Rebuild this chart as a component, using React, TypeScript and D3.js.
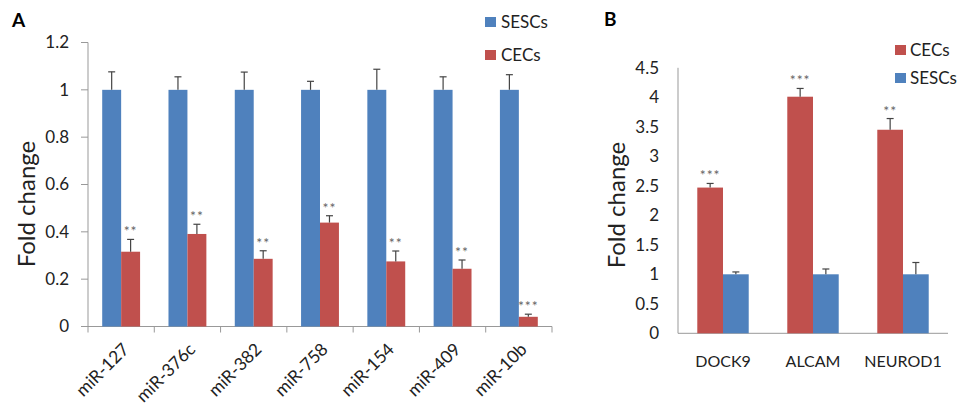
import * as d3 from 'd3';

// Panel A: miRNA expression
const miRNAs = ['miR-127', 'miR-376c', 'miR-382', 'miR-758', 'miR-154', 'miR-409', 'miR-10b'];
const sescA = [1, 1, 1, 1, 1, 1, 1];
const sescAErr = [0.076, 0.055, 0.075, 0.036, 0.087, 0.055, 0.064];
const cecA = [0.316, 0.391, 0.286, 0.439, 0.275, 0.244, 0.041];
const cecAErr = [0.052, 0.041, 0.034, 0.029, 0.044, 0.037, 0.011];
const sigA = ['**', '**', '**', '**', '**', '**', '***'];
const ticksA = [0, 0.2, 0.4, 0.6, 0.8, 1, 1.2];

// Panel B: gene expression
const genes = ['DOCK9', 'ALCAM', 'NEUROD1'];
const cecB = [2.47, 4.01, 3.45];
const cecBErr = [0.07, 0.14, 0.19];
const sescB = [1, 1, 1];
const sescBErr = [0.04, 0.09, 0.2];
const sigB = ['***', '***', '**'];
const ticksB = [0, 0.5, 1, 1.5, 2, 2.5, 3, 3.5, 4, 4.5];

const BLUE = '#4F81BD';
const RED = '#C0504D';
const AXIS = '#999';
const FONT = "Lato, 'Open Sans', sans-serif";

const W = 959;
const H = 409;

function Bars({ x, sub, y, keys, vals, errs, sig, color, key2 }: any) {
  return (
    <g>
      {keys.map((k: string, i: number) => {
        const bx = x(k) + sub(key2);
        const bw = sub.bandwidth();
        const top = y(vals[i]);
        const et = y(vals[i] + errs[i]);
        const cx = bx + bw / 2;
        return (
          <g key={k}>
            <rect x={bx} y={top} width={bw} height={y(0) - top} fill={color} />
            <line x1={cx} x2={cx} y1={top} y2={et} stroke="#444" strokeWidth={1.2} />
            <line x1={cx - 3.5} x2={cx + 3.5} y1={et} y2={et} stroke="#444" strokeWidth={1.2} />
            {sig && (
              <text x={cx} y={et - 3} textAnchor="middle" fontSize={14} fill="#666" letterSpacing={1}>
                {sig[i]}
              </text>
            )}
          </g>
        );
      })}
    </g>
  );
}

export default function App() {
  // scales for A
  const xA = d3.scaleBand().domain(miRNAs).range([88, 552]).padding(0);
  const subA = d3.scaleBand().domain(['SESCs', 'CECs']).range([0, xA.bandwidth()]).paddingInner(0).paddingOuter(0.75);
  const yA = d3.scaleLinear().domain([0, 1.2]).range([326.5, 42.5]);
  const fmt = d3.format('~g');

  // scales for B
  const xB = d3.scaleBand().domain(genes).range([678, 948]).padding(0);
  const subB = d3.scaleBand().domain(['CECs', 'SESCs']).range([0, xB.bandwidth()]).paddingInner(0).paddingOuter(0.75);
  const yB = d3.scaleLinear().domain([0, 4.5]).range([333.3, 67.8]);

  return (
    <svg width={W} height={H} style={{ position: 'absolute', left: 0, top: 0, background: '#fff' }} fontFamily={FONT}>
      {/* Panel A */}
      <text x={12} y={27} fontSize={19} fontWeight="bold" fill="#000">A</text>
      <line x1={88} x2={88} y1={yA(1.2)} y2={yA(0)} stroke={AXIS} />
      {ticksA.map((t) => (
        <g key={t}>
          <line x1={81} x2={88} y1={yA(t)} y2={yA(t)} stroke={AXIS} />
          <text x={69} y={yA(t)} dy="0.35em" textAnchor="end" fontSize={17} fill="#222">{fmt(t)}</text>
        </g>
      ))}
      <line x1={88} x2={552} y1={yA(0)} y2={yA(0)} stroke={AXIS} />
      {[...miRNAs.map((m) => xA(m)!), 552].map((v, i) => (
        <line key={i} x1={v} x2={v} y1={yA(0)} y2={yA(0) + 6} stroke={AXIS} />
      ))}
      <Bars x={xA} sub={subA} y={yA} keys={miRNAs} vals={sescA} errs={sescAErr} color={BLUE} key2="SESCs" />
      <Bars x={xA} sub={subA} y={yA} keys={miRNAs} vals={cecA} errs={cecAErr} sig={sigA} color={RED} key2="CECs" />
      {miRNAs.map((m) => {
        const cx = xA(m)! + xA.bandwidth() / 2;
        return (
          <text key={m} transform={`translate(${cx + 9},${yA(0) + 24}) rotate(-45)`} textAnchor="end" fontSize={17.5} fill="#222">
            {m}
          </text>
        );
      })}
      <text transform={`translate(35,204) rotate(-90)`} textAnchor="middle" fontSize={24} fill="#222">Fold change</text>
      <rect x={485} y={17} width={11} height={10} fill={BLUE} />
      <text x={501} y={28} fontSize={17} fill="#222">SESCs</text>
      <rect x={485} y={50} width={11} height={10} fill={RED} />
      <text x={501} y={61} fontSize={17} fill="#222">CECs</text>

      {/* Panel B */}
      <text x={604} y={26} fontSize={19} fontWeight="bold" fill="#000">B</text>
      <line x1={678} x2={678} y1={yB(4.5)} y2={yB(0)} stroke={AXIS} />
      {ticksB.map((t) => (
        <text key={t} x={659} y={yB(t)} dy="0.35em" textAnchor="end" fontSize={17} fill="#222">{fmt(t)}</text>
      ))}
      <line x1={678} x2={948} y1={yB(0)} y2={yB(0)} stroke={AXIS} />
      <Bars x={xB} sub={subB} y={yB} keys={genes} vals={cecB} errs={cecBErr} sig={sigB} color={RED} key2="CECs" />
      <Bars x={xB} sub={subB} y={yB} keys={genes} vals={sescB} errs={sescBErr} color={BLUE} key2="SESCs" />
      {genes.map((g) => (
        <text key={g} x={xB(g)! + xB.bandwidth() / 2} y={367} textAnchor="middle" fontSize={16} fill="#222">{g}</text>
      ))}
      <text transform={`translate(625,205) rotate(-90)`} textAnchor="middle" fontSize={24} fill="#222">Fold change</text>
      <rect x={895} y={45} width={11} height={10} fill={RED} />
      <text x={910} y={56} fontSize={17} fill="#222">CECs</text>
      <rect x={895} y={73} width={11} height={10} fill={BLUE} />
      <text x={910} y={84} fontSize={17} fill="#222">SESCs</text>
    </svg>
  );
}
